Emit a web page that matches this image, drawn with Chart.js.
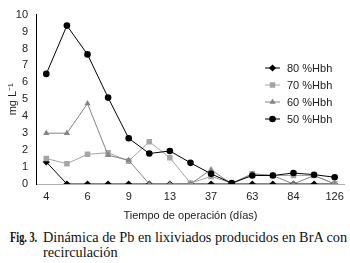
<!DOCTYPE html>
<html>
<head>
<meta charset="utf-8">
<script src="https://cdn.jsdelivr.net/npm/chart.js@4/dist/chart.umd.min.js"></script>
<style>
  html, body { margin: 0; padding: 0; background: #fff; }
  #wrap { position: relative; width: 350px; height: 263px; overflow: hidden; }
  #chartBox { position: absolute; left: 0; top: 0; width: 350px; height: 226px; }
  .cap {
    position: absolute; white-space: nowrap;
    font-family: "Liberation Serif", "Times New Roman", serif;
    font-size: 14.3px; line-height: 15px; color: #111;
  }
  .fig { left: 10px; top: 230px; font-weight: bold; transform: scaleX(0.72); transform-origin: 0 0; }
  .txt { left: 43px; top: 230px; }
</style>
</head>
<body>
<div id="wrap">
  <div id="chartBox"><canvas id="pbChart" width="350" height="226"></canvas></div>
  <div class="cap fig">Fig. 3.</div>
  <div class="cap txt">Dinámica de Pb en lixiviados producidos en BrA con<br>recirculación</div>
</div>
<script>
// days of operation (only every other tick is labelled in the figure)
const dayLabels = ["4", "", "6", "", "9", "", "13", "", "37", "", "63", "", "84", "", "126"];

const seriesNames = ["80 %Hbh", "70 %Hbh", "60 %Hbh", "50 %Hbh"];

const hbh80 = [1.3, 0, 0, 0, 0, 0, 0, 0, 0, 0, 0, 0, 0, 0, 0];
const hbh70 = [1.5, 1.2, 1.75, 1.85, 1.35, 2.5, 1.55, 0.05, 0.45, 0.05, 0.6, 0.5, 0.5, 0.5, 0.02];
const hbh60 = [3.0, 3.0, 4.75, 1.7, 1.4, 0, 0, 0, 0.85, 0, 0.6, 0.5, 0, 0.5, 0];
const hbh50 = [6.5, 9.35, 7.65, 5.1, 2.7, 1.8, 1.95, 1.25, 0.6, 0.05, 0.5, 0.5, 0.65, 0.55, 0.4];

const yTicks = [0, 1, 2, 3, 4, 5, 6, 7, 8, 9, 10];

const styles = [
  { color: "#000000", point: "rectRot", radius: 3.6 },
  { color: "#a5a5a5", point: "rect", radius: 3.9 },
  { color: "#858585", point: "triangle", radius: 3.6 },
  { color: "#000000", point: "circle", radius: 3.3 }
];

const values = [hbh80, hbh70, hbh60, hbh50];

const datasets = seriesNames.map((name, i) => ({
  label: name,
  data: values[i],
  borderColor: styles[i].color,
  backgroundColor: styles[i].color,
  borderWidth: 1,
  pointStyle: styles[i].point,
  pointRadius: styles[i].radius,
  pointBorderWidth: 0,
  pointBackgroundColor: styles[i].color,
  tension: 0,
  order: 3 - i // later series on top, like the original
}));

// legend drawn inside the plot, upper right
const insideLegend = {
  id: "insideLegend",
  afterDraw(chart) {
    const ctx = chart.ctx;
    ctx.save();
    ctx.font = "11px 'Liberation Sans', Arial, sans-serif";
    ctx.textBaseline = "middle";
    datasets.forEach((ds, i) => {
      const y = 68 + i * 17;
      ctx.strokeStyle = ds.borderColor;
      ctx.lineWidth = 1;
      ctx.beginPath();
      ctx.moveTo(265, y);
      ctx.lineTo(280, y);
      ctx.stroke();
      ctx.fillStyle = ds.pointBackgroundColor;
      Chart.helpers.drawPoint(ctx, {
        pointStyle: ds.pointStyle, radius: ds.pointRadius, borderWidth: 0, rotation: 0
      }, 272.5, y);
      ctx.fillStyle = "#222";
      ctx.fillText(ds.label, 287, y + 0.5);
    });
    ctx.restore();
  }
};

new Chart(document.getElementById("pbChart"), {
  type: "line",
  data: { labels: dayLabels, datasets },
  plugins: [insideLegend],
  options: {
    responsive: false,
    animation: false,
    layout: { padding: { top: 10, right: 5, left: 0, bottom: 0 } },
    plugins: { legend: { display: false }, tooltip: { enabled: false } },
    scales: {
      x: {
        type: "category",
        offset: true,
        grid: { display: false, drawTicks: false },
        border: { display: true, color: "#b0b0b0", width: 1 },
        ticks: {
          autoSkip: false, maxRotation: 0, padding: 6,
          color: "#222", font: { family: "'Liberation Sans', Arial", size: 11 }
        },
        title: {
          display: true, text: "Tiempo de operación (días)", color: "#222",
          font: { family: "'Liberation Sans', Arial", size: 11 },
          padding: { top: 4, bottom: 3 }
        },
        afterFit: s => { s.height = 42; }
      },
      y: {
        min: 0, max: 10,
        afterBuildTicks: s => { s.ticks = yTicks.map(v => ({ value: v })); },
        grid: { display: false, drawTicks: false },
        border: { display: true, color: "#000", width: 1 },
        ticks: {
          padding: 8, color: "#222",
          font: { family: "'Liberation Sans', Arial", size: 11 }
        },
        title: {
          display: true, text: "mg L⁻¹", color: "#222",
          font: { family: "'Liberation Sans', Arial", size: 11 },
          padding: { top: 6, bottom: 0 }
        },
        afterFit: s => { s.width = 36; }
      }
    }
  }
});
</script>
</body>
</html>
